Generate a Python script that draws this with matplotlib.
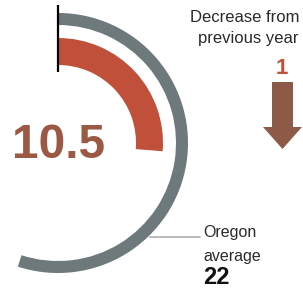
import matplotlib
matplotlib.use("Agg")
import matplotlib.pyplot as plt
from matplotlib.patches import Wedge, FancyArrow

# Data
county_value = 10.5
state_avg = 22
change = 1
scale_max = 40  # full circle corresponds to this value
value_label = "10.5"
change_label = "1"
avg_label = "22"

plt.rcParams['font.family'] = ['Liberation Sans', 'DejaVu Sans']

fig = plt.figure(figsize=(3.03, 2.90), dpi=100)
ax = fig.add_axes([0, 0, 1, 1])
ax.set_xlim(0, 303)
ax.set_ylim(290, 0)
ax.set_aspect('equal')
ax.axis('off')

cx, cy = 58, 143
gray = '#6e797b'
red = '#c1503a'
brown = '#9b5843'
arrow_c = '#8c5a47'

def sweep(v):
    return v / scale_max * 360.0

# Gray arc (state average) - starts at top, clockwise on screen
ax.add_patch(Wedge((cx, cy), 130, -90, -90 + sweep(state_avg), width=12,
                   facecolor=gray, edgecolor='none'))
# Red arc (county value)
ax.add_patch(Wedge((cx, cy), 105, -90, -90 + sweep(county_value), width=27,
                   facecolor=red, edgecolor='none'))
# Black start tick
ax.plot([cx, cx], [5, 72], color='black', lw=1.6, solid_capstyle='butt')

# Big value
ax.text(12, 145, value_label, fontsize=34.5, fontweight='bold', color=brown,
        ha='left', va='center')

# Decrease label
ax.text(299, 17, "Decrease from", fontsize=12, color='#2a2a2a', ha='right', va='center')
ax.text(299, 38, "previous year", fontsize=12, color='#2a2a2a', ha='right', va='center')
ax.text(282, 68, change_label, fontsize=16, fontweight='bold', color=red,
        ha='center', va='center')
ax.add_patch(FancyArrow(282.5, 82, 0, 67, width=21, head_width=39, head_length=22,
                        length_includes_head=True, facecolor=arrow_c, edgecolor='none'))

# Leader line and Oregon average
ax.plot([150, 200], [237, 237], color='#b0b0b0', lw=1.2)
ax.text(203, 233, "Oregon", fontsize=11.5, color='#2a2a2a', ha='left', va='center')
ax.text(203, 256, "average", fontsize=11.5, color='#2a2a2a', ha='left', va='center')
ax.text(203, 278, avg_label, fontsize=17, fontweight='bold', color='#111111',
        ha='left', va='center')

fig.savefig('out.png', dpi=100)
